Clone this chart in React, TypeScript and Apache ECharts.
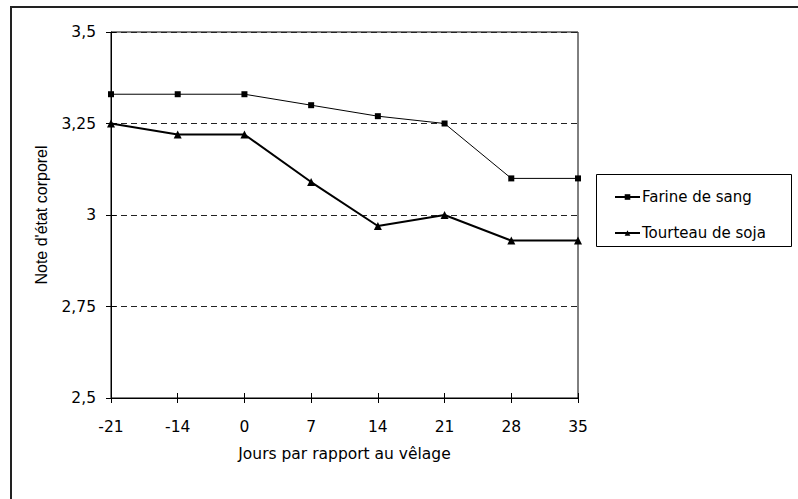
import React, { useEffect, useRef } from "react";
import * as echarts from "echarts";

const days = ["-21", "-14", "0", "7", "14", "21", "28", "35"];
const farineDeSang = [3.33, 3.33, 3.33, 3.30, 3.27, 3.25, 3.10, 3.10];
const tourteauDeSoja = [3.25, 3.22, 3.22, 3.09, 2.97, 3.00, 2.93, 2.93];
const yMin = 2.5;
const yMax = 3.5;
const yStep = 0.25;

const FONT = "DejaVu Sans, Liberation Sans, Arial, sans-serif";
const FONT_V = "Liberation Sans, Arial, sans-serif";
const FS = 15.5;

export default function App() {
  const ref = useRef<HTMLDivElement>(null);
  useEffect(() => {
    if (!ref.current) return;
    const chart = echarts.init(ref.current, null, { renderer: "svg" });
    const fmt = (v: number) => String(v).replace(".", ",");
    chart.setOption({
      animation: false,
      backgroundColor: "#fff",
      textStyle: { fontFamily: FONT, color: "#000" },
      grid: {
        left: 111,
        top: 32,
        right: 220,
        bottom: 101,
        show: true,
        borderColor: "#000",
        borderWidth: 1,
        backgroundColor: "transparent",
      },
      graphic: [
        {
          type: "rect",
          shape: { x: 11, y: 7, width: 900, height: 600 },
          style: { fill: "none", stroke: "#222", lineWidth: 2 },
          silent: true,
          z: -1,
        },
        {
          type: "rect",
          shape: { x: 596.5, y: 174.5, width: 195, height: 72 },
          style: { fill: "none", stroke: "#000", lineWidth: 1 },
          silent: true,
        },
      ],
      legend: {
        orient: "vertical",
        left: 614,
        top: 189.5,
        itemWidth: 25,
        itemHeight: 7,
        itemGap: 21,
        padding: 0,
        textStyle: { fontFamily: FONT, fontSize: 15, color: "#000", padding: [0, 0, 0, -3] },
        data: ["Farine de sang", "Tourteau de soja"],
      },
      xAxis: [
        {
          type: "category",
          data: days,
          boundaryGap: false,
          position: "bottom",
          axisLine: { show: true, lineStyle: { color: "#000", width: 1 } },
          axisTick: { show: true, length: 5, lineStyle: { color: "#000" } },
          axisLabel: { color: "#000", fontSize: FS, fontFamily: FONT, margin: 21 },
          splitLine: { show: false },
          name: "Jours par rapport au vêlage",
          nameLocation: "middle",
          nameGap: 48,
          nameTextStyle: { color: "#000", fontSize: FS, fontFamily: FONT },
        },
        {
          type: "category",
          data: days,
          boundaryGap: false,
          position: "bottom",
          offset: 0,
          axisLine: { show: false },
          axisTick: { show: true, inside: true, length: 5, lineStyle: { color: "#000" } },
          axisLabel: { show: false },
          splitLine: { show: false },
        },
      ],
      yAxis: [
        {
          type: "value",
          min: yMin,
          max: yMax,
          interval: yStep,
          position: "left",
          axisLine: { show: true, lineStyle: { color: "#000", width: 1 } },
          axisTick: { show: true, length: 5, lineStyle: { color: "#000" } },
          axisLabel: { color: "#000", fontSize: FS, fontFamily: FONT, margin: 15, formatter: fmt },
          splitLine: { show: true, lineStyle: { color: "#222", width: 1, type: [6, 4] } },
          name: "Note d'état corporel",
          nameLocation: "middle",
          nameGap: 62,
          nameTextStyle: { color: "#000", fontSize: 16, fontFamily: FONT_V },
        },
        {
          type: "value",
          min: yMin,
          max: yMax,
          interval: yStep,
          position: "left",
          offset: 0,
          axisLine: { show: false },
          axisTick: { show: true, inside: true, length: 5, lineStyle: { color: "#000" } },
          axisLabel: { show: false },
          splitLine: { show: false },
        },
      ],
      series: [
        {
          name: "Farine de sang",
          type: "line",
          data: farineDeSang,
          xAxisIndex: 0,
          yAxisIndex: 0,
          symbol: "rect",
          symbolSize: 6,
          lineStyle: { color: "#000", width: 1 },
          itemStyle: { color: "#000" },
          z: 3,
        },
        {
          name: "Tourteau de soja",
          type: "line",
          data: tourteauDeSoja,
          xAxisIndex: 0,
          yAxisIndex: 0,
          symbol: "triangle",
          symbolSize: 8,
          lineStyle: { color: "#000", width: 2 },
          itemStyle: { color: "#000" },
          z: 3,
        },
      ],
    });
    return () => chart.dispose();
  }, []);
  return (
    <div
      ref={ref}
      style={{ position: "fixed", left: 0, top: 0, width: 798, height: 499 }}
    />
  );
}
